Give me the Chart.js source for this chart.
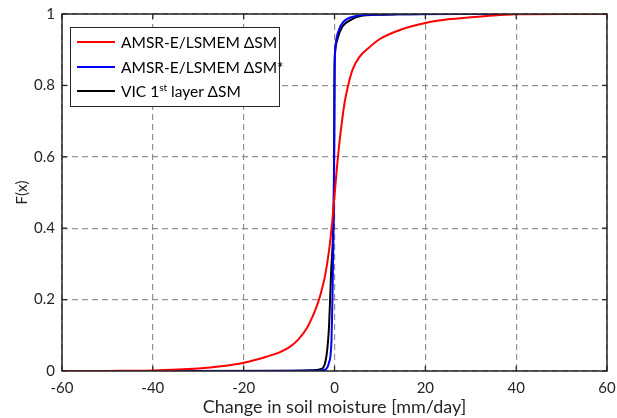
<!DOCTYPE html>
<html>
<head>
<meta charset="utf-8">
<script src="https://cdn.jsdelivr.net/npm/chart.js@4"></script>
<style>
  html, body { margin:0; padding:0; background:#fff; }
  #wrap { position:relative; width:617px; height:418px; }
  canvas { display:block; }
  #legend { position:absolute; left:70px; top:27px; width:210px; height:80px; border:1.5px solid #262626; background:#fff; box-sizing:border-box;
            font-family: Lato, "Open Sans", sans-serif; font-size:15.5px; color:#000; }
  .row { position:absolute; left:0; height:20px; line-height:20px; white-space:nowrap; }
  .sw { position:absolute; left:6px; top:9px; width:38px; height:2px; }
  .lab { position:absolute; left:50px; top:0; }
  sup { font-size:10px; vertical-align:6px; line-height:0; }
</style>
</head>
<body>
<div id="wrap">
  <canvas id="c" width="617" height="418"></canvas>
  <div id="legend"></div>
</div>
<script>
// ---- data ----
const seriesLabels = ['AMSR-E/LSMEM ΔSM', 'AMSR-E/LSMEM ΔSM*', 'VIC 1<sup>st</sup> layer ΔSM'];
const seriesColors = ['#ff0000', '#0000ff', '#000000'];

const redX = [-60, -50, -40, -30, -25, -20, -15, -12, -10, -8, -6, -5, -4, -3, -2, -1.2, -0.5, 0, 0.5, 1.0, 1.6, 2.2, 3.0, 4, 5.5, 7.5, 10, 15, 20, 25, 30, 35, 40, 50, 60];
const redY = [0, 0.0003, 0.0015, 0.007, 0.013, 0.023, 0.040, 0.053, 0.066, 0.088, 0.122, 0.148, 0.178, 0.218, 0.272, 0.338, 0.418, 0.490, 0.565, 0.630, 0.695, 0.750, 0.800, 0.845, 0.880, 0.905, 0.930, 0.958, 0.975, 0.985, 0.991, 0.996, 0.999, 1, 1];

const blueX = [-40, -5, -2.35, -1.25, -0.66, -0.44, -0.22, -0.1, 0, 0.1, 0.22, 0.95, 2.05, 4.3, 8, 15, 35];
const blueY = [0, 0.0005, 0.003, 0.022, 0.087, 0.208, 0.395, 0.55, 0.8, 0.88, 0.908, 0.955, 0.979, 0.993, 0.998, 0.9995, 1];

const blackX = [-40, -10, -5, -3.1, -2, -1.25, -0.73, -0.3, -0.15, -0.05, 0, 0.1, 0.59, 1.7, 3.5, 5.7, 10, 14, 20, 40];
const blackY = [0, 0.0005, 0.002, 0.005, 0.026, 0.115, 0.28, 0.395, 0.5, 0.7, 0.85, 0.89, 0.927, 0.964, 0.983, 0.994, 0.998, 0.999, 1, 1];

const xTicks = [-60, -40, -20, 0, 20, 40, 60];
const yTicks = [0, 0.2, 0.4, 0.6, 0.8, 1];
const xTitle = 'Change in soil moisture [mm/day]';
const yTitle = 'F(x)';

const FONT = 'Lato, "Open Sans", sans-serif';
const toPts = (xs, ys) => xs.map((x, i) => ({x, y: ys[i]}));
const allX = [redX, blueX, blackX];
const allY = [redY, blueY, blackY];

const datasets = seriesLabels.map((lab, i) => ({
  label: lab.replace(/<[^>]+>/g, ''),
  data: toPts(allX[i], allY[i]),
  borderColor: seriesColors[i],
  borderWidth: 2,
  pointRadius: 0,
  fill: false,
  cubicInterpolationMode: 'monotone'
}));

const frame = {
  id: 'frame',
  afterDatasetsDraw(chart) {
    const {ctx, chartArea: a, scales: {x, y}} = chart;
    ctx.save();
    ctx.strokeStyle = '#262626';
    ctx.lineWidth = 1.5;
    ctx.strokeRect(a.left, a.top, a.right - a.left, a.bottom - a.top);
    ctx.lineWidth = 1.2;
    ctx.beginPath();
    xTicks.forEach(v => {
      const px = x.getPixelForValue(v);
      ctx.moveTo(px, a.bottom); ctx.lineTo(px, a.bottom - 5);
      ctx.moveTo(px, a.top); ctx.lineTo(px, a.top + 5);
    });
    yTicks.forEach(v => {
      const py = y.getPixelForValue(v);
      ctx.moveTo(a.left, py); ctx.lineTo(a.left + 5, py);
      ctx.moveTo(a.right, py); ctx.lineTo(a.right - 5, py);
    });
    ctx.stroke();
    ctx.restore();
  }
};

new Chart(document.getElementById('c'), {
  type: 'line',
  data: { datasets },
  options: {
    responsive: false,
    animation: false,
    layout: { padding: { top: 14, right: 10, left: 0, bottom: 0 } },
    plugins: { legend: { display: false }, tooltip: { enabled: false } },
    scales: {
      x: {
        type: 'linear', min: -60, max: 60,
        afterBuildTicks: s => { s.ticks = xTicks.map(v => ({value: v})); },
        afterFit: s => { s.height = 47; s.paddingRight = 0; s.paddingLeft = 0; },
        ticks: { font: { family: FONT, size: 15 }, color: '#262626', padding: 8, maxRotation: 0,
                 callback: v => String(v) },
        grid: { color: 'rgba(128,128,128,0.85)', lineWidth: 1.2, drawTicks: false },
        border: { display: false, dash: [6, 4] },
        title: { display: true, text: xTitle, font: { family: FONT, size: 18 }, color: '#262626', padding: { top: 0, bottom: 0 } }
      },
      y: {
        type: 'linear', min: 0, max: 1,
        afterBuildTicks: s => { s.ticks = yTicks.map(v => ({value: v})); },
        afterFit: s => { s.width = 62; s.paddingTop = 0; s.paddingBottom = 0; },
        ticks: { font: { family: FONT, size: 15 }, color: '#262626', padding: 7,
                 callback: v => String(Math.round(v * 10) / 10) },
        grid: { color: 'rgba(128,128,128,0.85)', lineWidth: 1.2, drawTicks: false },
        border: { display: false, dash: [6, 4] },
        title: { display: true, text: yTitle, font: { family: FONT, size: 15 }, color: '#262626', padding: { top: 13, bottom: 0 } }
      }
    }
  },
  plugins: [frame]
});

// HTML legend built from the series arrays
const leg = document.getElementById('legend');
seriesLabels.forEach((lab, i) => {
  const r = document.createElement('div');
  r.className = 'row';
  r.style.top = (4 + i * 24.7) + 'px';
  r.innerHTML = '<span class="sw" style="background:' + seriesColors[i] + '"></span><span class="lab">' + lab + '</span>';
  leg.appendChild(r);
});
</script>
</body>
</html>
